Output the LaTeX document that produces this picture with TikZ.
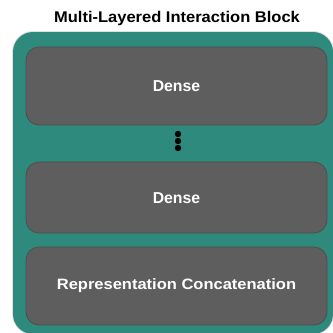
\documentclass[tikz,border=0pt]{standalone}
\usepackage{fontspec}
\setmainfont{Liberation Sans}
\newfontfamily\titlefont[FakeStretch=1.065]{Liberation Sans}
\newfontfamily\boxfont{Liberation Sans}
\newfontfamily\widefont[FakeStretch=1.10]{Liberation Sans}
\definecolor{tealframe}{HTML}{2D8A7D}
\definecolor{layergray}{HTML}{5E5E5E}
\definecolor{layeredge}{HTML}{4E4E4E}
\begin{document}
\begin{tikzpicture}[x=1pt,y=-1pt,
  layer/.style={fill=layergray, draw=layeredge, line width=0.8pt, rounded corners=13pt},
  layertext/.style={text=white, font=\boxfont\bfseries\fontsize{15.8}{18}\selectfont},
  dotmark/.style={circle, fill=black, inner sep=0pt, minimum size=6.4pt}]
\useasboundingbox (0,0) rectangle (333,333);
\fill[black!12, rounded corners=21pt] (12,31) rectangle (334,335);
\fill[tealframe, rounded corners=20pt] (13,32) rectangle (333,334);
\node[font=\titlefont\bfseries\fontsize{15.5}{18}\selectfont, anchor=base] (title) at (177,22.3) {Multi-Layered Interaction Block};
\draw[layer] (26,47) rectangle (327,125);
\node[layertext] (dense1) at (176.5,86) {Dense};
\node[dotmark] (d1) at (178,134) {};
\node[dotmark] (d2) at (178,141) {};
\node[dotmark] (d3) at (178,148) {};
\draw[layer] (26,162) rectangle (327,233);
\node[layertext] (dense2) at (176.5,198) {Dense};
\draw[layer] (26,247) rectangle (327,325);
\node[layertext, font=\widefont\bfseries\fontsize{15}{18}\selectfont] (concat) at (176.5,285.5) {Representation Concatenation};
\end{tikzpicture}
\end{document}
